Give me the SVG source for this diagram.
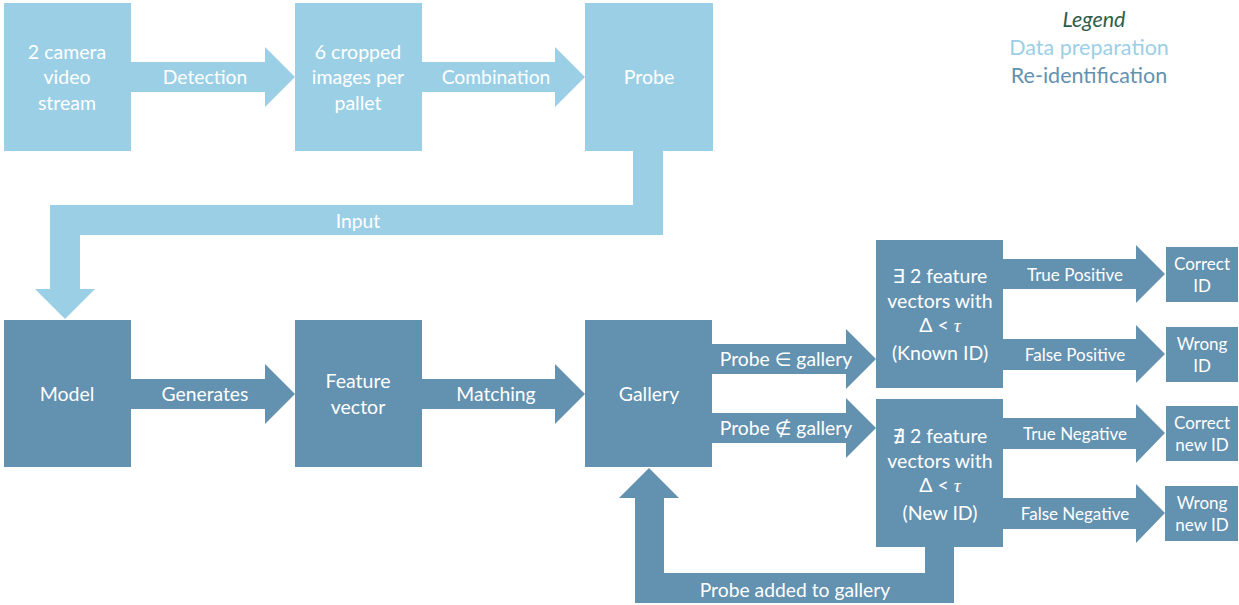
<svg xmlns="http://www.w3.org/2000/svg" width="1239" height="605" viewBox="0 0 1239 605">
  <style>
    .prep { fill: #9BCFE6; }
    .reid { fill: #6391B0; }
    text { font-family: Lato, "Open Sans", "DejaVu Sans", sans-serif; fill: #FFFFFF; text-anchor: middle; }
    .box { font-size: 19.5px; }
    .lbl { font-size: 19.3px; }
    .sm { font-size: 17px; }
    .leg { font-size: 21.5px; }
  </style>
  <rect width="1239" height="605" fill="#FFFFFF"/>

  <!-- connectors -->
  <g id="connectors">
    <polygon class="prep" points="131,62 265,62 265,47 295,77 265,107 265,92 131,92"/>
    <polygon class="prep" points="422,62 555,62 555,47 585,77 555,107 555,92 422,92"/>
    <polygon class="prep" points="633,151 663,151 663,235 80,235 80,289 95,289 65,319 35,289 50,289 50,205 633,205"/>
    <polygon class="reid" points="131,379 265,379 265,364 295,394 265,424 265,409 131,409"/>
    <polygon class="reid" points="422,379 555,379 555,364 585,394 555,424 555,409 422,409"/>
    <polygon class="reid" points="712,344 846,344 846,329 876,359 846,389 846,374 712,374"/>
    <polygon class="reid" points="712,413 846,413 846,398 876,428 846,458 846,443 712,443"/>
    <polygon class="reid" points="1003,259 1136,259 1136,245 1165,274 1136,303 1136,289 1003,289"/>
    <polygon class="reid" points="1003,339 1136,339 1136,325 1165,354 1136,383 1136,370 1003,370"/>
    <polygon class="reid" points="1003,418 1136,418 1136,404 1165,433 1136,463 1136,449 1003,449"/>
    <polygon class="reid" points="1003,498 1136,498 1136,484 1165,513 1136,543 1136,529 1003,529"/>
    <polygon class="reid" points="954,547 954,603 635,603 635,498 619,498 649,468 679,498 664,498 664,573 925,573 925,547"/>
    <text class="lbl" x="205" y="84">Detection</text>
    <text class="lbl" x="496" y="84">Combination</text>
    <text class="lbl" x="358" y="228">Input</text>
    <text class="lbl" x="205" y="401">Generates</text>
    <text class="lbl" x="496" y="401">Matching</text>
    <text class="lbl" x="786" y="366">Probe ∈ gallery</text>
    <text class="lbl" x="786" y="435">Probe ∉ gallery</text>
    <text class="sm" x="1075" y="281">True Positive</text>
    <text class="sm" x="1075" y="361">False Positive</text>
    <text class="sm" x="1075" y="440">True Negative</text>
    <text class="sm" x="1075" y="520">False Negative</text>
    <text class="lbl" x="795" y="597">Probe added to gallery</text>
  </g>

  <g id="camera">
    <rect class="prep" x="4" y="3" width="127" height="148"/>
    <text class="box" x="67" y="59">2 camera</text>
    <text class="box" x="67" y="84">video</text>
    <text class="box" x="67" y="110">stream</text>
  </g>
  <g id="cropped">
    <rect class="prep" x="295" y="3" width="127" height="148"/>
    <text class="box" x="358" y="59">6 cropped</text>
    <text class="box" x="358" y="84">images per</text>
    <text class="box" x="358" y="110">pallet</text>
  </g>
  <g id="probe">
    <rect class="prep" x="585" y="3" width="128" height="148"/>
    <text class="box" x="649" y="84">Probe</text>
  </g>
  <g id="model">
    <rect class="reid" x="4" y="320" width="127" height="147"/>
    <text class="box" x="67" y="401">Model</text>
  </g>
  <g id="feature-vector">
    <rect class="reid" x="295" y="320" width="127" height="147"/>
    <text class="box" x="358" y="388">Feature</text>
    <text class="box" x="358" y="414">vector</text>
  </g>
  <g id="gallery">
    <rect class="reid" x="585" y="320" width="127" height="147"/>
    <text class="box" x="649" y="401">Gallery</text>
  </g>
  <g id="known-id">
    <rect class="reid" x="876" y="240" width="127" height="148"/>
    <text class="box" x="940" y="283">∃ 2 feature</text>
    <text class="box" x="940" y="308">vectors with</text>
    <text class="box" x="940" y="332">Δ &lt; <tspan font-style="italic" font-family="'Liberation Serif', serif">τ</tspan></text>
    <text class="box" x="940" y="360">(Known ID)</text>
  </g>
  <g id="new-id">
    <rect class="reid" x="876" y="399" width="127" height="148"/>
    <text class="box" x="940" y="443">∄ 2 feature</text>
    <text class="box" x="940" y="468">vectors with</text>
    <text class="box" x="940" y="492">Δ &lt; <tspan font-style="italic" font-family="'Liberation Serif', serif">τ</tspan></text>
    <text class="box" x="940" y="520">(New ID)</text>
  </g>
  <g id="correct-id">
    <rect class="reid" x="1166" y="247" width="72" height="55"/>
    <text class="sm" x="1202" y="270">Correct</text>
    <text class="sm" x="1202" y="292">ID</text>
  </g>
  <g id="wrong-id">
    <rect class="reid" x="1166" y="327" width="72" height="55"/>
    <text class="sm" x="1202" y="350">Wrong</text>
    <text class="sm" x="1202" y="372">ID</text>
  </g>
  <g id="correct-new-id">
    <rect class="reid" x="1166" y="406" width="72" height="55"/>
    <text class="sm" x="1202" y="429">Correct</text>
    <text class="sm" x="1202" y="451">new ID</text>
  </g>
  <g id="wrong-new-id">
    <rect class="reid" x="1165" y="486" width="73" height="55"/>
    <text class="sm" x="1202" y="509">Wrong</text>
    <text class="sm" x="1202" y="531">new ID</text>
  </g>

  <g id="legend">
    <text class="leg" x="1094" y="27" style="font-style:italic;fill:#2E5E4A">Legend</text>
    <text class="leg" x="1089" y="55" style="fill:#9BCFE6">Data preparation</text>
    <text class="leg" x="1089" y="83" style="fill:#6391B0">Re-identification</text>
  </g>
</svg>
